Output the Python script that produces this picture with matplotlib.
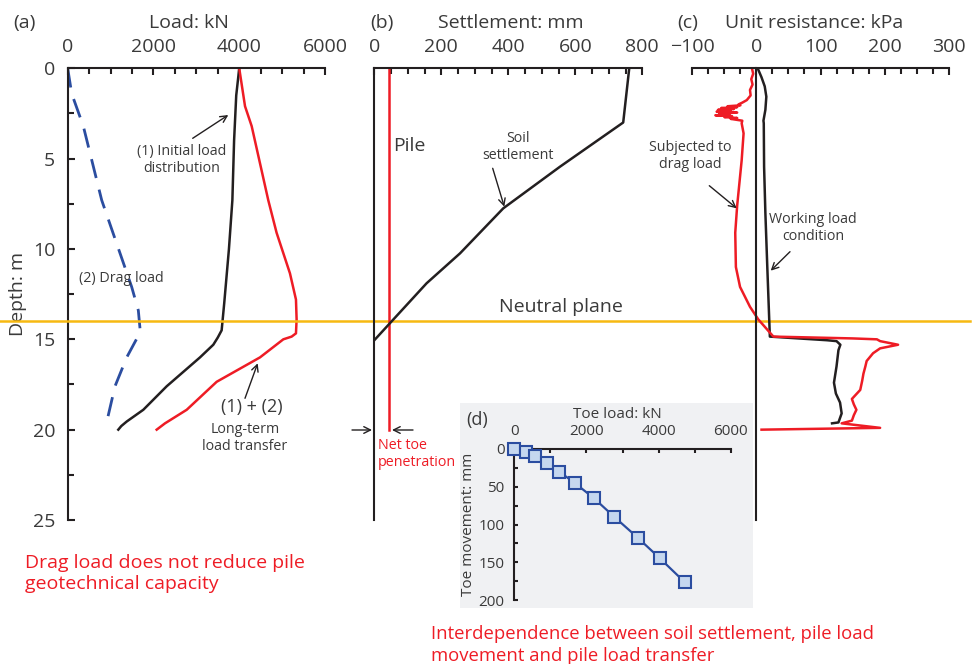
import numpy as np
import matplotlib
matplotlib.use('Agg')
import matplotlib.pyplot as plt
from matplotlib.patches import Rectangle
from matplotlib.transforms import blended_transform_factory
from matplotlib.ticker import MultipleLocator

plt.rcParams['font.family'] = ['Open Sans', 'DejaVu Sans']

# (a) load distributions, kN vs depth m
depth_init = [0, 1.5, 4, 7.3, 10, 13, 14.5, 14.9, 15.3, 16.0, 17.6, 18.9, 19.55, 19.8, 20.0]
load_init = [4000, 3930, 3880, 3840, 3760, 3650, 3590, 3500, 3395, 3085, 2308, 1763, 1376, 1250, 1180]
depth_long = [0, 2.1, 3.2, 7.3, 9.1, 11.35, 12.8, 13.9, 14.67, 14.85, 15.0, 16.0, 17.35, 18.9, 19.65, 20.0]
load_long = [4000, 4135, 4290, 4677, 4871, 5183, 5323, 5338, 5323, 5222, 5028, 4484, 3474, 2775, 2269, 2075]
depth_drag = [0, 1.4, 3.2, 7.3, 9.7, 12.1, 13.4, 14.4, 14.7, 16.0, 17.6, 19.75]
load_drag = [0, 93, 364, 793, 1142, 1492, 1647, 1686, 1670, 1376, 1103, 893]

# (b) settlement, mm
depth_soil = [0, 3.0, 5.45, 7.75, 10.24, 11.9, 14.0, 15.05]
settle_soil = [761, 743, 554, 385, 256, 156, 52, 0]
depth_pile = [0, 20]
settle_pile = [45, 45]

# (c) unit resistance, kPa
depth_work = [0, 0.5, 1.0, 1.57, 2.3, 2.9, 3.04, 5.45, 8, 11.0, 13.9, 14.85, 15.05, 15.1, 15.3,
              15.6, 16.5, 17.4, 18.0, 18.5, 19.1, 19.6, 19.65]
res_work = [2, 8, 13, 15.5, 14, 11, 11.5, 12, 14, 17, 20, 21, 110, 125, 131,
            128, 125, 121, 124, 130.5, 133, 128, 118]
depth_drag_res = [0, 0.3, 0.6, 0.9, 1.2, 1.5, 1.76, 1.9, 2.0, 2.05, 2.1, 2.15, 2.2, 2.25, 2.3,
                  2.35, 2.4, 2.45, 2.5, 2.55, 2.6, 2.65, 2.7, 2.75, 2.8, 2.9, 3.04, 3.6, 5.1,
                  7.6, 9.1, 11.0, 12.1, 13.2, 13.9, 14.85, 14.95, 15.0, 15.1, 15.3, 15.5, 15.77,
                  16.2, 16.5, 16.9, 17.3, 17.8, 18.3, 18.6, 18.9, 19.2, 19.5, 19.65, 19.9, 20.0]
res_drag = [-7, -5, -8, -6, -10, -9, -15, -22, -28, -25, -45, -30, -55, -35, -60,
            -40, -62, -30, -58, -42, -64, -38, -50, -30, -40, -22, -23, -20, -23,
            -30, -33, -32, -25.5, -10, 3, 26.5, 150, 188, 193, 221, 193, 182,
            172, 170, 167, 165, 162, 149, 152, 156, 152, 149, 133, 193, 8]

# (d) toe load vs toe movement
toe_load = [0, 324, 574, 898, 1248, 1683, 2208, 2763, 3420, 4041, 4734]
toe_move = [0, 3.6, 8.9, 19, 30, 45.3, 65.2, 89.5, 117.4, 145, 176.8]

W, H = 977, 664
BLACK = '#231F20'
RED = '#EE1C25'
BLUE = '#2B4DA0'
ORANGE = '#F7B911'
GREY = '#3A3A3A'


def rect(x0, y0, x1, y1):
    return [x0 / W, 1 - y1 / H, (x1 - x0) / W, (y1 - y0) / H]


def px(x, y):
    return (x, H - y)


fig = plt.figure(figsize=(W / 100, H / 100), dpi=100)

ax_a = fig.add_axes(rect(67.7, 68.3, 325, 520))
ax_b = fig.add_axes(rect(374.3, 68.3, 642.3, 520))
ax_c = fig.add_axes(rect(692.3, 68.3, 948.7, 520))

for ax in (ax_a, ax_b, ax_c):
    ax.set_facecolor('none')
    ax.set_ylim(25, 0)
    ax.spines['bottom'].set_visible(False)
    ax.spines['right'].set_visible(False)
    ax.spines['top'].set_linewidth(1.5)
    ax.spines['left'].set_linewidth(1.5)
    ax.spines['top'].set_color(BLACK)
    ax.spines['left'].set_color(BLACK)
    ax.xaxis.tick_top()
    ax.tick_params(axis='x', which='both', direction='in', top=True, bottom=False,
                   labeltop=True, labelbottom=False, width=1.5, color=BLACK,
                   labelsize=14, labelcolor=GREY, pad=9)
    ax.tick_params(axis='x', which='major', length=5)
    ax.tick_params(axis='x', which='minor', length=4)

ax_a.set_xlim(0, 6000)
ax_a.xaxis.set_major_locator(MultipleLocator(2000))
ax_a.xaxis.set_minor_locator(MultipleLocator(500))
ax_a.yaxis.set_major_locator(MultipleLocator(5))
ax_a.yaxis.set_minor_locator(MultipleLocator(2.5))
ax_a.tick_params(axis='y', which='both', direction='in', width=1.5, color=BLACK,
                 labelsize=14, labelcolor=GREY, pad=9)
ax_a.tick_params(axis='y', which='major', length=5)
ax_a.tick_params(axis='y', which='minor', length=4)
ax_a.set_ylabel('Depth: m', fontsize=14, color=GREY, labelpad=4)

ax_a.plot(load_drag, depth_drag, color=BLUE, lw=2, ls=(0, (7, 4.3)))
ax_a.plot(load_init, depth_init, color=BLACK, lw=1.8)
ax_a.plot(load_long, depth_long, color=RED, lw=1.8)

ax_b.set_xlim(0, 800)
ax_b.xaxis.set_major_locator(MultipleLocator(200))
ax_b.xaxis.set_minor_locator(MultipleLocator(50))
ax_b.tick_params(axis='y', which='both', left=False, labelleft=False)
ax_b.plot(settle_pile, depth_pile, color=RED, lw=1.8)
ax_b.plot(settle_soil, depth_soil, color=BLACK, lw=1.8)

ax_c.set_xlim(-100, 300)
ax_c.xaxis.set_major_locator(MultipleLocator(100))
ax_c.xaxis.set_minor_locator(MultipleLocator(25))
ax_c.spines['left'].set_position(('data', 0))
ax_c.tick_params(axis='y', which='both', left=False, labelleft=False)
ax_c.plot(res_work, depth_work, color=BLACK, lw=1.8)
ax_c.plot(res_drag, depth_drag_res, color=RED, lw=1.8)

# neutral plane across all panels
trans = blended_transform_factory(ax_a.transAxes, ax_a.transData)
ax_a.plot([-0.263, 3.507], [14, 14], transform=trans, clip_on=False,
          color=ORANGE, lw=1.8, zorder=6)

# inset (d)
fig.add_artist(Rectangle((460 / W, 1 - 608 / H), (753 - 460) / W, (608 - 403) / H,
                         transform=fig.transFigure, facecolor='#F0F1F3',
                         edgecolor='none', zorder=-1))
ax_d = fig.add_axes(rect(514.3, 449, 730.7, 600))
ax_d.set_facecolor('none')
ax_d.set_xlim(0, 6000)
ax_d.set_ylim(200, 0)
ax_d.spines['bottom'].set_visible(False)
ax_d.spines['right'].set_visible(False)
for s in ('top', 'left'):
    ax_d.spines[s].set_linewidth(1.5)
    ax_d.spines[s].set_color(BLACK)
ax_d.xaxis.tick_top()
ax_d.xaxis.set_major_locator(MultipleLocator(2000))
ax_d.xaxis.set_minor_locator(MultipleLocator(1000))
ax_d.yaxis.set_major_locator(MultipleLocator(50))
ax_d.yaxis.set_minor_locator(MultipleLocator(25))
ax_d.tick_params(axis='x', which='both', direction='in', top=True, bottom=False,
                 labeltop=True, labelbottom=False, width=1.5, length=3,
                 color=BLACK, labelsize=11, labelcolor=GREY, pad=7)
ax_d.tick_params(axis='y', which='both', direction='in', width=1.5, length=3,
                 color=BLACK, labelsize=11, labelcolor=GREY, pad=7)
ax_d.set_ylabel('Toe movement: mm', fontsize=11, color=GREY, labelpad=2)
ax_d.plot(toe_load, toe_move, color=BLUE, lw=1.6, marker='s', markersize=8.5,
          markerfacecolor='#C5D7EF', markeredgecolor=BLUE, markeredgewidth=1.5,
          clip_on=False, zorder=5)

# panel titles
for x, s in [(13, '(a)'), (370, '(b)'), (677, '(c)')]:
    fig.text(x / W, 1 - 28 / H, s, fontsize=14, color=GREY, va='baseline')
for x, s in [(189, 'Load: kN'), (511, 'Settlement: mm'), (814, 'Unit resistance: kPa')]:
    fig.text(x / W, 1 - 28 / H, s, fontsize=14, color=GREY, va='baseline', ha='center')
fig.text(617 / W, 1 - 415 / H, 'Toe load: kN', fontsize=11, color=GREY, va='center', ha='center')
fig.text(477 / W, 1 - 420 / H, '(d)', fontsize=13, color=GREY, va='center', ha='center')

# annotations
small = 10.3
fig.text(182 / W, 1 - 160 / H, '(1) Initial load\ndistribution', fontsize=small,
         color=GREY, ha='center', va='center', linespacing=1.2)
fig.text(121 / W, 1 - 279 / H, '(2) Drag load', fontsize=small, color=GREY,
         ha='center', va='center')
fig.text(252 / W, 1 - 407 / H, '(1) + (2)', fontsize=13, color=GREY,
         ha='center', va='center')
fig.text(245 / W, 1 - 438 / H, 'Long-term\nload transfer', fontsize=small, color=GREY,
         ha='center', va='center', linespacing=1.2)
fig.text(409 / W, 1 - 146 / H, 'Pile', fontsize=14, color=GREY, ha='center', va='center')
fig.text(518 / W, 1 - 147 / H, 'Soil\nsettlement', fontsize=small, color=GREY,
         ha='center', va='center', linespacing=1.2)
fig.text(561 / W, 1 - 307 / H, 'Neutral plane', fontsize=14, color=GREY,
         ha='center', va='center')
fig.text(690 / W, 1 - 156 / H, 'Subjected to\ndrag load', fontsize=small, color=GREY,
         ha='center', va='center', linespacing=1.2)
fig.text(813 / W, 1 - 228 / H, 'Working load\ncondition', fontsize=small, color=GREY,
         ha='center', va='center', linespacing=1.2)
fig.text(378 / W, 1 - 454 / H, 'Net toe\npenetration', fontsize=small, color=RED,
         ha='left', va='center', linespacing=1.2)

arrows = [((192.7, 138.3), (228.3, 115)),
          ((245, 398.3), (257.7, 363.3)),
          ((492.7, 168.3), (504.3, 206.7)),
          ((709.3, 185.7), (736.7, 208.3)),
          ((790, 251.7), (770.7, 270.7)),
          ((352, 430), (372, 430)),
          ((413, 430), (392, 430))]
for start, end in arrows:
    fig.add_artist(plt.Annotation('', xy=px(*end), xytext=px(*start),
                                  xycoords='figure pixels', textcoords='figure pixels',
                                  arrowprops=dict(arrowstyle='->', color=BLACK, lw=1,
                                                  shrinkA=0, shrinkB=0,
                                                  mutation_scale=12)))

# multi-line text: baseline refers to the last line
fig.text(25 / W, 1 - 589 / H, 'Drag load does not reduce pile\ngeotechnical capacity',
         fontsize=14, color=RED, ha='left', va='baseline', linespacing=1.25)
fig.text(431 / W, 1 - 661 / H, 'Interdependence between soil settlement, pile load\n'
         'movement and pile load transfer', fontsize=13.3, color=RED, ha='left',
         va='baseline', linespacing=1.3)

fig.savefig('out.png', dpi=100)
